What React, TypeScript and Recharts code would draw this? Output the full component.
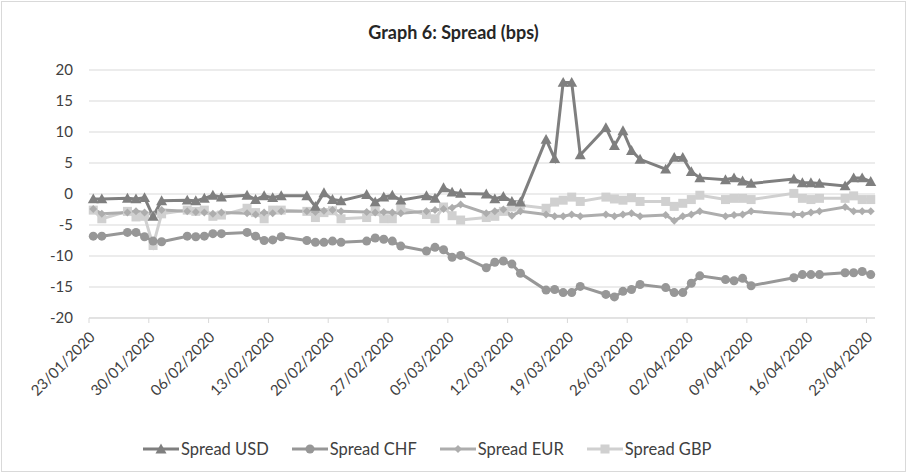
import React from "react";
import { LineChart, Line, XAxis, YAxis, CartesianGrid } from "recharts";

const dates = [
  "23/01/2020","24/01/2020","27/01/2020","28/01/2020","29/01/2020","30/01/2020","31/01/2020",
  "03/02/2020","04/02/2020","05/02/2020","06/02/2020","07/02/2020",
  "10/02/2020","11/02/2020","12/02/2020","13/02/2020","14/02/2020",
  "17/02/2020","18/02/2020","19/02/2020","20/02/2020","21/02/2020",
  "24/02/2020","25/02/2020","26/02/2020","27/02/2020","28/02/2020",
  "02/03/2020","03/03/2020","04/03/2020","05/03/2020","06/03/2020",
  "09/03/2020","10/03/2020","11/03/2020","12/03/2020","13/03/2020",
  "16/03/2020","17/03/2020","18/03/2020","19/03/2020","20/03/2020",
  "23/03/2020","24/03/2020","25/03/2020","26/03/2020","27/03/2020",
  "30/03/2020","31/03/2020","01/04/2020","02/04/2020","03/04/2020",
  "06/04/2020","07/04/2020","08/04/2020","09/04/2020",
  "14/04/2020","15/04/2020","16/04/2020","17/04/2020",
  "20/04/2020","21/04/2020","22/04/2020","23/04/2020",
];

const spreadUSD = [
  -0.8,-0.8,-0.7,-0.8,-0.6,-3.6,-1.1,
  -1.0,-1.1,-0.7,-0.2,-0.5,
  -0.2,-0.9,-0.3,-0.6,-0.3,
  -0.3,-2.0,0.2,-0.9,-1.1,
  -0.1,-1.3,-0.5,-0.2,-1.0,
  -0.3,-0.7,1.0,0.3,0.1,
  0.0,-0.8,-0.4,-1.2,-1.3,
  8.8,5.7,18.0,18.0,6.3,
  10.7,7.8,10.2,7.0,5.6,
  4.0,5.9,5.9,3.6,2.6,
  2.3,2.6,2.1,1.7,
  2.4,1.8,1.8,1.7,
  1.3,2.6,2.6,2.0,
];

const spreadCHF = [
  -6.8,-6.8,-6.2,-6.2,-6.9,-7.6,-7.7,
  -6.8,-6.9,-6.8,-6.4,-6.4,
  -6.2,-6.8,-7.5,-7.4,-6.9,
  -7.5,-7.8,-7.8,-7.6,-7.8,
  -7.6,-7.1,-7.3,-7.6,-8.4,
  -9.2,-8.6,-9.0,-10.2,-9.9,
  -11.9,-11.0,-10.8,-11.3,-12.8,
  -15.5,-15.4,-15.9,-15.9,-14.9,
  -16.2,-16.6,-15.7,-15.4,-14.6,
  -15.1,-15.9,-15.9,-14.4,-13.2,
  -13.8,-14.0,-13.6,-14.8,
  -13.5,-13.0,-13.0,-13.0,
  -12.7,-12.7,-12.5,-13.0,
];

const spreadEUR = [
  -2.4,-3.2,-3.0,-2.8,-3.0,-3.3,-2.6,
  -2.8,-2.9,-3.0,-3.2,-3.0,
  -3.1,-3.3,-3.0,-3.1,-2.8,
  -2.8,-2.9,-2.7,-2.6,-2.8,
  -2.9,-3.0,-2.9,-3.0,-3.1,
  -2.8,-2.6,-2.4,-2.2,-1.7,
  -3.1,-2.8,-2.5,-3.5,-2.8,
  -3.3,-3.6,-3.6,-3.3,-3.6,
  -3.3,-3.6,-3.3,-3.1,-3.6,
  -3.4,-4.3,-3.6,-3.3,-2.8,
  -3.6,-3.4,-3.3,-2.8,
  -3.3,-3.3,-3.0,-2.8,
  -2.1,-2.8,-2.8,-2.8,
];

const spreadGBP = [
  -2.6,-4.0,-2.8,-3.7,-3.6,-8.3,-3.2,
  -2.6,-2.8,-2.6,-3.6,-3.4,
  -2.3,-3.0,-4.0,-2.6,-2.6,
  -2.8,-3.8,-3.0,-2.7,-4.0,
  -3.8,-2.8,-4.0,-4.0,-2.3,
  -3.3,-4.0,-2.1,-3.5,-4.2,
  -3.8,-3.6,-2.8,-2.1,-1.8,
  -2.3,-1.3,-1.0,-0.5,-1.2,
  -0.5,-0.8,-1.0,-0.6,-1.2,
  -1.2,-2.0,-1.5,-0.9,-0.2,
  -0.9,-0.7,-0.7,-0.9,
  0.1,-0.7,-0.9,-0.7,
  -0.7,-0.3,-0.9,-0.9,
];

const tickLabels = [
  "23/01/2020","30/01/2020","06/02/2020","13/02/2020","20/02/2020","27/02/2020","05/03/2020",
  "12/03/2020","19/03/2020","26/03/2020","02/04/2020","09/04/2020","16/04/2020","23/04/2020",
];

const yTicks = [-20, -15, -10, -5, 0, 5, 10, 15, 20];

const seriesNames = ["Spread USD", "Spread CHF", "Spread EUR", "Spread GBP"];
const seriesColors = ["#7f7f7f", "#979797", "#adadad", "#d0d0d0"];

const DAY = 86400000;
const toUTC = (s: string) => {
  const [d, m, y] = s.split("/").map(Number);
  return Date.UTC(y, m - 1, d);
};
const start = toUTC(dates[0]);
const dayOf = (s: string) => (toUTC(s) - start) / DAY;

// Excel date axis "between tick marks": each day's point sits mid-day
const data = dates.map((d, i) => ({
  x: dayOf(d) + 0.5,
  usd: spreadUSD[i],
  chf: spreadCHF[i],
  eur: spreadEUR[i],
  gbp: spreadGBP[i],
}));

const tickDays = tickLabels.map(dayOf);
const labelOf = (v: number) => tickLabels[tickDays.indexOf(v)] ?? "";

const FONT = "Lato, 'Open Sans', sans-serif";

const XTick = (props: any) => {
  const { x, y, payload } = props;
  return (
    <g transform={`translate(${x + 7},${y + 13})`}>
      <text x={0} y={0} textAnchor="end" transform="rotate(-45)" fill="#404040" fontSize={15} fontFamily={FONT}>
        {labelOf(payload.value)}
      </text>
    </g>
  );
};

const Triangle = (props: any) => {
  const { cx, cy, fill } = props;
  if (cx == null || cy == null) return null;
  const s = 5.5;
  return <polygon points={`${cx},${cy - s} ${cx + s},${cy + s * 0.8} ${cx - s},${cy + s * 0.8}`} fill={fill} />;
};
const Circle = (props: any) => {
  const { cx, cy, fill } = props;
  if (cx == null || cy == null) return null;
  return <circle cx={cx} cy={cy} r={4.5} fill={fill} />;
};
const Diamond = (props: any) => {
  const { cx, cy, fill } = props;
  if (cx == null || cy == null) return null;
  const s = 4;
  return <polygon points={`${cx},${cy - s} ${cx + s},${cy} ${cx},${cy + s} ${cx - s},${cy}`} fill={fill} />;
};
const Square = (props: any) => {
  const { cx, cy, fill } = props;
  if (cx == null || cy == null) return null;
  const s = 4.5;
  return <rect x={cx - s} y={cy - s} width={2 * s} height={2 * s} fill={fill} />;
};

const markerComps = [Triangle, Circle, Diamond, Square];

const LegendBox = () => (
  <div
    style={{
      position: "absolute", left: 142, top: 440, width: 620,
      display: "flex", justifyContent: "flex-start", gap: 22,
      fontFamily: FONT, fontSize: 16.5, color: "#404040", lineHeight: "18px",
    }}
  >
    {seriesNames.map((n, i) => {
      const M = markerComps[i];
      return (
        <div key={n} style={{ display: "flex", alignItems: "center" }}>
          <svg width={38} height={14}>
            <line x1={1} y1={7} x2={37} y2={7} stroke={seriesColors[i]} strokeWidth={3} />
            <M cx={19} cy={7} fill={seriesColors[i]} />
          </svg>
          <span style={{ marginLeft: 1 }}>{n}</span>
        </div>
      );
    })}
  </div>
);

export default function App() {
  const keys = ["usd", "chf", "eur", "gbp"];
  return (
    <div style={{ position: "absolute", left: 0, top: 0, width: 907, height: 475, background: "#fff" }}>
      <div style={{ position: "absolute", left: 1, top: 1, width: 903, height: 469, border: "1px solid #d9d9d9" }} />
      <div
        style={{
          position: "absolute", left: 0, top: 21, width: 907, textAlign: "center",
          fontFamily: FONT, fontWeight: 700, fontSize: 18, color: "#262626",
        }}
      >
        Graph 6: Spread (bps)
      </div>
      <div style={{ position: "absolute", left: 0, top: 0 }}>
        <LineChart width={907} height={475} data={data} margin={{ top: 70, right: 32, left: 0, bottom: 57 }}>
          <CartesianGrid vertical={false} stroke="#d9d9d9" strokeWidth={1} />
          <XAxis
            dataKey="x"
            type="number"
            domain={[0, 92]}
            ticks={tickDays}
            interval={0}
            height={100}
            tick={<XTick />}
            axisLine={{ stroke: "#d9d9d9" }}
            tickLine={{ stroke: "#d9d9d9" }}
            tickSize={5}
          />
          <YAxis
            type="number"
            domain={[-20, 20]}
            ticks={yTicks}
            width={89}
            axisLine={false}
            tickLine={false}
            tickMargin={10}
            tick={{ fill: "#404040", fontSize: 15, fontFamily: FONT }}
          />
          {keys.map((k, i) => {
            const M = markerComps[i];
            return (
              <Line
                key={k}
                dataKey={k}
                name={seriesNames[i]}
                stroke={seriesColors[i]}
                strokeWidth={3}
                isAnimationActive={false}
                dot={<M fill={seriesColors[i]} />}
                activeDot={false}
                type="linear"
              />
            );
          }).reverse()}
        </LineChart>
      </div>
      <LegendBox />
    </div>
  );
}
